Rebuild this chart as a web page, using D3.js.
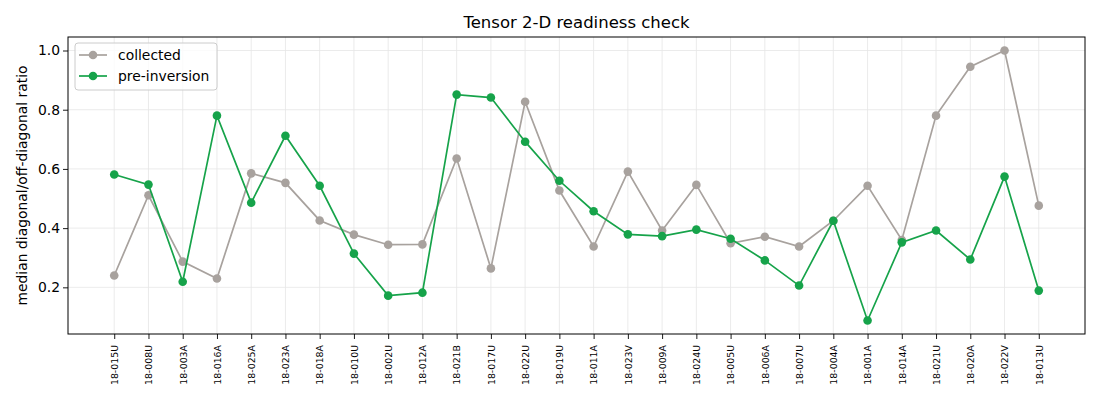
<!DOCTYPE html>
<html>
<head>
<meta charset="utf-8">
<script src="https://cdn.jsdelivr.net/npm/d3@7"></script>
<style>
  body { margin: 0; background: #fff; }
  svg { font-family: "DejaVu Sans", sans-serif; }
  .grid line { stroke: #e6e6e6; stroke-width: 0.8; }
  .axis path, .axis line { stroke: #000; stroke-width: 0.9; }
</style>
</head>
<body>
<div id="chart"></div>
<script>
// Station codes along the x axis
const stations = ['18-015U', '18-008U', '18-003A', '18-016A', '18-025A', '18-023A', '18-018A',
    '18-010U', '18-002U', '18-012A', '18-021B', '18-017U', '18-022U', '18-019U', '18-011A',
    '18-023V', '18-009A', '18-024U', '18-005U', '18-006A', '18-007U', '18-004A', '18-001A',
    '18-014A', '18-021U', '18-020A', '18-022V', '18-013U'];

// median diagonal/off-diagonal ratio
const collected = [0.240, 0.511, 0.287, 0.230, 0.585, 0.553, 0.426, 0.378, 0.344, 0.345,
    0.635, 0.264, 0.827, 0.527, 0.338, 0.591, 0.392, 0.546, 0.349, 0.371, 0.338, 0.425,
    0.543, 0.360, 0.780, 0.945, 1.000, 0.476];
const preInversion = [0.581, 0.547, 0.219, 0.780, 0.486, 0.712, 0.543, 0.314, 0.172, 0.182,
    0.851, 0.841, 0.692, 0.560, 0.457, 0.379, 0.373, 0.395, 0.364, 0.291, 0.206, 0.425,
    0.088, 0.352, 0.392, 0.294, 0.574, 0.189];

const yTicks = [0.2, 0.4, 0.6, 0.8, 1.0];

const series = [
    { name: 'collected', values: collected, color: '#a8a29e' },
    { name: 'pre-inversion', values: preInversion, color: '#16a34a' }
];

const width = 1100, height = 400;
const margin = { top: 37, right: 15, bottom: 66, left: 68 };
const innerW = width - margin.left - margin.right;
const innerH = height - margin.top - margin.bottom;

const svg = d3.select('#chart').append('svg')
    .attr('width', width)
    .attr('height', height);

const g = svg.append('g')
    .attr('transform', `translate(${margin.left},${margin.top})`);

// matplotlib-like 5% margins on both axes
const n = stations.length;
const xPad = (n - 1) * 0.05;
const x = d3.scaleLinear()
    .domain([-xPad, n - 1 + xPad])
    .range([0, innerW]);

const allVals = collected.concat(preInversion);
const yMin = d3.min(allVals), yMax = d3.max(allVals);
const yPad = (yMax - yMin) * 0.05;
const y = d3.scaleLinear()
    .domain([yMin - yPad, yMax + yPad])
    .range([innerH, 0]);

// Grid
g.append('g').attr('class', 'grid')
    .selectAll('line.v')
    .data(d3.range(n))
    .enter().append('line')
    .attr('x1', d => x(d)).attr('x2', d => x(d))
    .attr('y1', 0).attr('y2', innerH);

g.append('g').attr('class', 'grid')
    .selectAll('line.h')
    .data(yTicks)
    .enter().append('line')
    .attr('x1', 0).attr('x2', innerW)
    .attr('y1', d => y(d)).attr('y2', d => y(d));

// Axes
const xAxis = g.append('g').attr('class', 'axis')
    .attr('transform', `translate(0,${innerH})`)
    .call(d3.axisBottom(x)
        .tickValues(d3.range(n))
        .tickFormat(i => stations[i])
        .tickSize(5)
        .tickSizeOuter(0));
xAxis.select('.domain').remove();
xAxis.selectAll('text')
    .attr('transform', 'rotate(-90)')
    .attr('x', -11)
    .attr('y', 0)
    .attr('dy', '0.35em')
    .style('text-anchor', 'end')
    .style('font-size', '9.4px')
    .style('font-family', '"DejaVu Sans", sans-serif')
    .attr('fill', '#000');

const yAxis = g.append('g').attr('class', 'axis')
    .call(d3.axisLeft(y)
        .tickValues(yTicks)
        .tickFormat(d3.format('.1f'))
        .tickSize(5)
        .tickSizeOuter(0));
yAxis.select('.domain').remove();
yAxis.selectAll('text')
    .attr('x', -8)
    .style('font-size', '13.9px')
    .style('font-family', '"DejaVu Sans", sans-serif')
    .attr('fill', '#000');

// Lines and markers
const line = d3.line()
    .x((d, i) => x(i))
    .y(d => y(d));

series.forEach(s => {
    g.append('path')
        .datum(s.values)
        .attr('fill', 'none')
        .attr('stroke', s.color)
        .attr('stroke-width', 1.7)
        .attr('d', line);
    g.selectAll(null)
        .data(s.values)
        .enter().append('circle')
        .attr('cx', (d, i) => x(i))
        .attr('cy', d => y(d))
        .attr('r', 4.3)
        .attr('fill', s.color);
});

// Frame
g.append('rect')
    .attr('width', innerW).attr('height', innerH)
    .attr('fill', 'none')
    .attr('stroke', '#000')
    .attr('stroke-width', 1);

// Title and y label
svg.append('text')
    .attr('x', margin.left + innerW / 2)
    .attr('y', 28)
    .attr('text-anchor', 'middle')
    .style('font-size', '16.5px')
    .text('Tensor 2-D readiness check');

svg.append('text')
    .attr('transform', `translate(27,${margin.top + innerH / 2}) rotate(-90)`)
    .attr('text-anchor', 'middle')
    .style('font-size', '13.9px')
    .text('median diagonal/off-diagonal ratio');

// Legend
const legend = svg.append('g').attr('transform', 'translate(75,43)');
legend.append('rect')
    .attr('width', 142).attr('height', 47)
    .attr('rx', 3)
    .attr('fill', 'rgba(255,255,255,0.8)')
    .attr('stroke', '#cccccc')
    .attr('stroke-width', 1);

series.forEach((s, i) => {
    const row = legend.append('g').attr('transform', `translate(0,${12 + i * 21})`);
    row.append('line')
        .attr('x1', 4).attr('x2', 32)
        .attr('stroke', s.color).attr('stroke-width', 1.7);
    row.append('circle')
        .attr('cx', 18).attr('r', 4.3).attr('fill', s.color);
    row.append('text')
        .attr('x', 43)
        .attr('dy', '0.35em')
        .style('font-size', '13.9px')
        .text(s.name);
});
</script>
</body>
</html>
